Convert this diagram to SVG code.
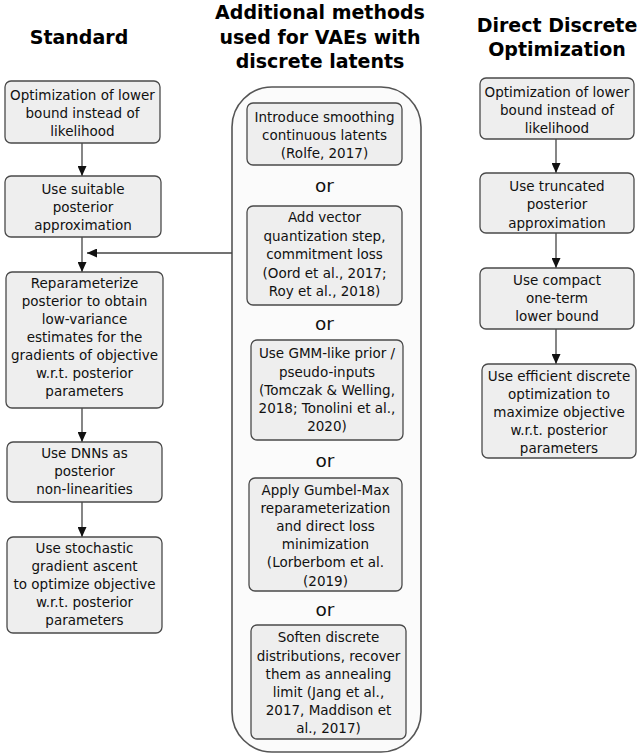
<svg xmlns="http://www.w3.org/2000/svg" width="637" height="754" viewBox="0 0 637 754">
<defs>
<style>
.box{fill:#eeeeee;stroke:#4a4a4a;stroke-width:1.3}
.cont{fill:#fbfbfb;stroke:#555555;stroke-width:1.6}
.t{font-family:"DejaVu Sans",sans-serif;font-size:13.5px;fill:#111111;text-anchor:middle}
.or{font-family:"DejaVu Sans",sans-serif;font-size:18.5px;fill:#111111;text-anchor:middle}
.h{font-family:"DejaVu Sans",sans-serif;font-size:19px;font-weight:bold;fill:#000000;text-anchor:middle}
.c{stroke:#444444;stroke-width:1.3;fill:none}
</style>
<marker id="ah" markerUnits="userSpaceOnUse" markerWidth="11" markerHeight="9" refX="10" refY="4.5" orient="auto">
<path d="M0,0 L10,4.5 L0,9 z" fill="#111111"/>
</marker>
</defs>
<rect width="637" height="754" fill="#ffffff"/>

<g id="titles">
<text class="h" x="79" y="44">Standard</text>
<text class="h" x="320" y="19">Additional methods</text>
<text class="h" x="320" y="43.5">used for VAEs with</text>
<text class="h" x="320" y="68">discrete latents</text>
<text class="h" x="557" y="32">Direct Discrete</text>
<text class="h" x="557" y="56">Optimization</text>
</g>

<g id="container">
<rect class="cont" x="232" y="87" width="189" height="665" rx="40" ry="40"/>
</g>

<g id="connectors">
<line class="c" x1="82" y1="143" x2="82" y2="176" marker-end="url(#ah)"/>
<line class="c" x1="82" y1="237" x2="82" y2="272" marker-end="url(#ah)"/>
<line class="c" x1="232" y1="253" x2="87" y2="253" marker-end="url(#ah)"/>
<line class="c" x1="82" y1="408" x2="82" y2="442" marker-end="url(#ah)"/>
<line class="c" x1="82" y1="502" x2="82" y2="537" marker-end="url(#ah)"/>
<line class="c" x1="556" y1="139" x2="556" y2="173" marker-end="url(#ah)"/>
<line class="c" x1="556" y1="233" x2="556" y2="268" marker-end="url(#ah)"/>
<line class="c" x1="556" y1="329" x2="556" y2="364" marker-end="url(#ah)"/>
</g>

<g id="s1">
<rect class="box" x="5" y="81" width="155" height="62" rx="6"/>
<text class="t" x="82.5" y="100">Optimization of lower</text>
<text class="t" x="82.5" y="118">bound instead of</text>
<text class="t" x="82.5" y="136">likelihood</text>
</g>
<g id="s2">
<rect class="box" x="5" y="176" width="156" height="61" rx="6"/>
<text class="t" x="83" y="194">Use suitable</text>
<text class="t" x="83" y="212">posterior</text>
<text class="t" x="83" y="230">approximation</text>
</g>
<g id="s3">
<rect class="box" x="6" y="272" width="157" height="136" rx="6"/>
<text class="t" x="84.5" y="288">Reparameterize</text>
<text class="t" x="84.5" y="306">posterior to obtain</text>
<text class="t" x="84.5" y="324">low-variance</text>
<text class="t" x="84.5" y="342">estimates for the</text>
<text class="t" x="84.5" y="360">gradients of objective</text>
<text class="t" x="84.5" y="378">w.r.t. posterior</text>
<text class="t" x="84.5" y="396">parameters</text>
</g>
<g id="s4">
<rect class="box" x="7" y="442" width="155" height="60" rx="6"/>
<text class="t" x="84.5" y="458">Use DNNs as</text>
<text class="t" x="84.5" y="476">posterior</text>
<text class="t" x="84.5" y="494">non-linearities</text>
</g>
<g id="s5">
<rect class="box" x="7" y="537" width="155" height="96" rx="6"/>
<text class="t" x="84.5" y="553">Use stochastic</text>
<text class="t" x="84.5" y="571">gradient ascent</text>
<text class="t" x="84.5" y="589">to optimize objective</text>
<text class="t" x="84.5" y="607">w.r.t. posterior</text>
<text class="t" x="84.5" y="625">parameters</text>
</g>

<g id="m1">
<rect class="box" x="247" y="103" width="155" height="62" rx="6"/>
<text class="t" x="324.5" y="122">Introduce smoothing</text>
<text class="t" x="324.5" y="140">continuous latents</text>
<text class="t" x="324.5" y="158">(Rolfe, 2017)</text>
</g>
<text class="or" x="324.5" y="192">or</text>
<g id="m2">
<rect class="box" x="247" y="206" width="155" height="99" rx="6"/>
<text class="t" x="324.5" y="222">Add vector</text>
<text class="t" x="324.5" y="240.5">quantization step,</text>
<text class="t" x="324.5" y="259">commitment loss</text>
<text class="t" x="324.5" y="277.5">(Oord et al., 2017;</text>
<text class="t" x="324.5" y="296">Roy et al., 2018)</text>
</g>
<text class="or" x="324.5" y="330">or</text>
<g id="m3">
<rect class="box" x="251" y="340" width="152" height="100" rx="6"/>
<text class="t" x="327" y="358">Use GMM-like prior /</text>
<text class="t" x="327" y="377">pseudo-inputs</text>
<text class="t" x="327" y="395">(Tomczak &amp; Welling,</text>
<text class="t" x="327" y="413">2018; Tonolini et al.,</text>
<text class="t" x="327" y="431">2020)</text>
</g>
<text class="or" x="325" y="467">or</text>
<g id="m4">
<rect class="box" x="249" y="478" width="153" height="113" rx="6"/>
<text class="t" x="325.5" y="495">Apply Gumbel-Max</text>
<text class="t" x="325.5" y="513">reparameterization</text>
<text class="t" x="325.5" y="531">and direct loss</text>
<text class="t" x="325.5" y="549">minimization</text>
<text class="t" x="325.5" y="567">(Lorberbom et al.</text>
<text class="t" x="325.5" y="586">(2019)</text>
</g>
<text class="or" x="325" y="616">or</text>
<g id="m5">
<rect class="box" x="251" y="625" width="155" height="114" rx="6"/>
<text class="t" x="328.5" y="642">Soften discrete</text>
<text class="t" x="328.5" y="660.5">distributions, recover</text>
<text class="t" x="328.5" y="679">them as annealing</text>
<text class="t" x="328.5" y="697">limit (Jang et al.,</text>
<text class="t" x="328.5" y="715">2017, Maddison et</text>
<text class="t" x="328.5" y="733">al., 2017)</text>
</g>

<g id="d1">
<rect class="box" x="480" y="78" width="154" height="61" rx="6"/>
<text class="t" x="557" y="97">Optimization of lower</text>
<text class="t" x="557" y="115">bound instead of</text>
<text class="t" x="557" y="133">likelihood</text>
</g>
<g id="d2">
<rect class="box" x="480" y="173" width="154" height="60" rx="6"/>
<text class="t" x="557" y="191">Use truncated</text>
<text class="t" x="557" y="209">posterior</text>
<text class="t" x="557" y="228">approximation</text>
</g>
<g id="d3">
<rect class="box" x="480" y="268" width="154" height="61" rx="6"/>
<text class="t" x="557" y="285">Use compact</text>
<text class="t" x="557" y="303">one-term</text>
<text class="t" x="557" y="321">lower bound</text>
</g>
<g id="d4">
<rect class="box" x="482" y="364" width="154" height="94" rx="6"/>
<text class="t" x="559" y="381">Use efficient discrete</text>
<text class="t" x="559" y="399">optimization to</text>
<text class="t" x="559" y="417">maximize objective</text>
<text class="t" x="559" y="435">w.r.t. posterior</text>
<text class="t" x="559" y="453">parameters</text>
</g>
</svg>
